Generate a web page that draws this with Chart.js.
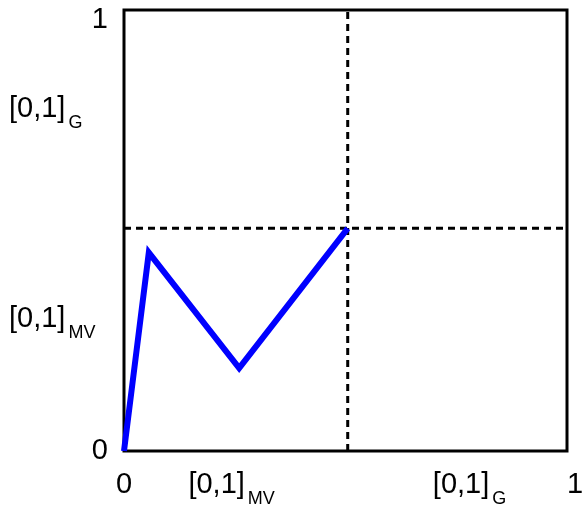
<!DOCTYPE html>
<html>
<head>
<meta charset="utf-8">
<title>Piecewise curve</title>
<script src="https://cdn.jsdelivr.net/npm/chart.js@4.4.1/dist/chart.umd.min.js"></script>
<style>
  html, body { margin: 0; padding: 0; background: #fff; }
  canvas { display: block; }
</style>
</head>
<body>
<canvas id="myChart" width="588" height="509"></canvas>
<script>
// curve points (x in [0,1], y in [0,1])
const curveX = [0, 0.056, 0.26, 0.505];
const curveY = [0, 0.45, 0.188, 0.505];

// dashed split lines
const splitX = 0.505;
const splitY = 0.505;

// axis end labels
const xTickValues = [0, 1];
const xTickLabels = ['0', '1'];
const yTickValues = [0, 1];
const yTickLabels = ['0', '1'];

// interval labels along each axis: [main, subscript]
const xBandPos = [0.243, 0.78];
const xBandLabels = [['[0,1]', 'MV'], ['[0,1]', 'G']];
const yBandPos = [0.306, 0.782];
const yBandLabels = [['[0,1]', 'MV'], ['[0,1]', 'G']];

const FONT = "'Liberation Sans', Arial, sans-serif";
const mainFont = '29px ' + FONT;
const subFont = '18px ' + FONT;
const SUB_GAP = 3;

function toPoints(xs, ys) {
  return xs.map((x, i) => ({ x: x, y: ys[i] }));
}

// label with a subscript, x = left edge, y = baseline
function drawSubLabel(ctx, parts, x, y) {
  ctx.textAlign = 'left';
  ctx.textBaseline = 'alphabetic';
  ctx.font = mainFont;
  ctx.fillText(parts[0], x, y);
  const w = ctx.measureText(parts[0]).width;
  ctx.font = subFont;
  ctx.fillText(parts[1], x + w + SUB_GAP, y + 11);
}

function subLabelWidth(ctx, parts) {
  ctx.font = mainFont;
  const w1 = ctx.measureText(parts[0]).width;
  ctx.font = subFont;
  return w1 + SUB_GAP + ctx.measureText(parts[1]).width;
}

const frameBox = {
  id: 'frameBox',
  beforeDatasetsDraw(chart) {
    const { ctx, chartArea: a } = chart;
    ctx.save();
    ctx.strokeStyle = '#000';
    ctx.lineWidth = 3;
    ctx.strokeRect(a.left, a.top, a.right - a.left, a.bottom - a.top);
    ctx.restore();
  }
};

const axisText = {
  id: 'axisText',
  afterDraw(chart) {
    const { ctx, chartArea: a, scales } = chart;
    const xs = scales.x, ys = scales.y;
    ctx.save();
    ctx.fillStyle = '#000';

    // x end labels under the bottom edge
    ctx.font = mainFont;
    ctx.textBaseline = 'alphabetic';
    xTickValues.forEach((v, i) => {
      const px = xs.getPixelForValue(v);
      const last = i === xTickValues.length - 1;
      ctx.textAlign = last ? 'left' : 'center';
      ctx.fillText(xTickLabels[i], px, a.bottom + 42);
    });

    // y end labels, kept inside the axis span
    ctx.textAlign = 'right';
    ctx.textBaseline = 'middle';
    yTickValues.forEach((v, i) => {
      const py = Math.max(ys.getPixelForValue(v), a.top + 10);
      ctx.fillText(yTickLabels[i], a.left - 16, py);
    });

    // interval labels
    xBandPos.forEach((v, i) => {
      const w = subLabelWidth(ctx, xBandLabels[i]);
      drawSubLabel(ctx, xBandLabels[i], xs.getPixelForValue(v) - w / 2, a.bottom + 42);
    });
    yBandPos.forEach((v, i) => {
      drawSubLabel(ctx, yBandLabels[i], 9, ys.getPixelForValue(v) + 11);
    });
    ctx.restore();
  }
};

const dashStyle = {
  borderColor: '#000',
  borderWidth: 3,
  borderDash: [7, 5],
  pointRadius: 0,
  fill: false,
  clip: false
};

const chartConfig = {
  type: 'scatter',
  data: {
    datasets: [
      {
        data: toPoints(curveX, curveY),
        showLine: true,
        borderColor: 'rgb(0, 0, 255)',
        borderWidth: 6,
        borderJoinStyle: 'miter',
        borderCapStyle: 'butt',
        pointRadius: 0,
        fill: false,
        clip: false,
        order: 0
      },
      Object.assign({
        data: [{ x: splitX, y: 0 }, { x: splitX, y: 1 }],
        showLine: true,
        order: 1
      }, dashStyle),
      Object.assign({
        data: [{ x: 0, y: splitY }, { x: 1, y: splitY }],
        showLine: true,
        order: 2
      }, dashStyle)
    ]
  },
  options: {
    responsive: false,
    animation: false,
    devicePixelRatio: 1,
    layout: { padding: { left: 124, top: 10, right: 21, bottom: 58 } },
    plugins: {
      legend: { display: false },
      tooltip: { enabled: false }
    },
    scales: {
      x: { type: 'linear', min: 0, max: 1, display: false },
      y: { type: 'linear', min: 0, max: 1, display: false }
    }
  },
  plugins: [frameBox, axisText]
};

new Chart(document.getElementById('myChart').getContext('2d'), chartConfig);
</script>
</body>
</html>
